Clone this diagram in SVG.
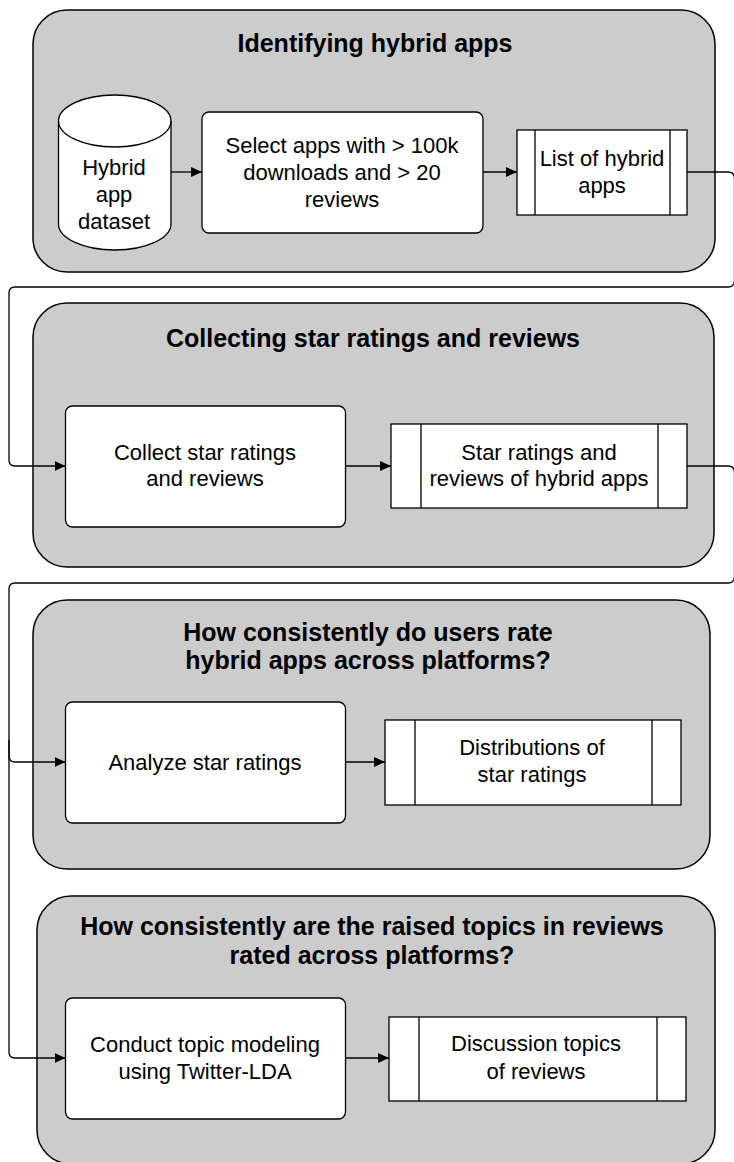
<svg xmlns="http://www.w3.org/2000/svg" width="734" height="1162" viewBox="0 0 734 1162">
<defs>
<style>
.cont{fill:#cccccc;stroke:#000;stroke-width:1.5}
.proc{fill:#fff;stroke:#000;stroke-width:1.3}
.ln{fill:none;stroke:#000;stroke-width:1.3}
.title{font-family:"Liberation Sans",Arial,sans-serif;font-weight:bold;font-size:25px;text-anchor:middle;fill:#000}
.txt{font-family:"Liberation Sans",Arial,sans-serif;font-size:22px;text-anchor:middle;fill:#000}
.edge{fill:none;stroke:#000;stroke-width:1.3}
</style>
<marker id="arr" markerUnits="userSpaceOnUse" markerWidth="12" markerHeight="10" refX="11" refY="5" orient="auto">
<path d="M0,0 L11,5 L0,10 z" fill="#000"/>
</marker>
</defs>
<rect width="734" height="1162" fill="#fff"/>

<g id="stage1">
<rect class="cont" x="33" y="10" width="682" height="262" rx="34"/>
<text class="title" x="375" y="52">Identifying hybrid apps</text>
</g>
<g id="dataset">
<path class="proc" d="M58.5,121 A56.25,26 0 0 1 171,121 L171,224 A56.25,26 0 0 1 58.5,224 Z"/>
<path class="ln" d="M58.5,121 A56.25,26 0 0 0 171,121"/>
<text class="txt" x="114" y="175">Hybrid</text>
<text class="txt" x="114" y="202">app</text>
<text class="txt" x="114" y="229">dataset</text>
</g>
<g id="select">
<rect class="proc" x="202" y="112" width="281" height="121" rx="7"/>
<text class="txt" x="342" y="153">Select apps with &gt; 100k</text>
<text class="txt" x="342" y="180">downloads and &gt; 20</text>
<text class="txt" x="342" y="207">reviews</text>
</g>
<g id="list">
<rect class="proc" x="517" y="130" width="170" height="85"/>
<path class="ln" d="M535,130 V215 M670,130 V215"/>
<text class="txt" x="602" y="166">List of hybrid</text>
<text class="txt" x="602" y="193">apps</text>
</g>

<g id="stage2">
<rect class="cont" x="33" y="303" width="681" height="264" rx="34"/>
<text class="title" x="373" y="347">Collecting star ratings and reviews</text>
</g>
<g id="collect">
<rect class="proc" x="65.5" y="406" width="280" height="121" rx="7"/>
<text class="txt" x="205" y="460">Collect star ratings</text>
<text class="txt" x="205" y="486">and reviews</text>
</g>
<g id="ratings">
<rect class="proc" x="391" y="424" width="296" height="84"/>
<path class="ln" d="M421,424 V508 M658,424 V508"/>
<text class="txt" x="539" y="460">Star ratings and</text>
<text class="txt" x="539" y="486">reviews of hybrid apps</text>
</g>

<g id="stage3">
<rect class="cont" x="33" y="600" width="677" height="269" rx="34"/>
<text class="title" x="368" y="641">How consistently do users rate</text>
<text class="title" x="368" y="669">hybrid apps across platforms?</text>
</g>
<g id="analyze">
<rect class="proc" x="65.5" y="702" width="280" height="121" rx="7"/>
<text class="txt" x="205" y="770">Analyze star ratings</text>
</g>
<g id="distributions">
<rect class="proc" x="385" y="720" width="296" height="85"/>
<path class="ln" d="M415,720 V805 M652,720 V805"/>
<text class="txt" x="532" y="755">Distributions of</text>
<text class="txt" x="532" y="782">star ratings</text>
</g>

<g id="stage4">
<rect class="cont" x="37" y="896" width="678" height="268" rx="34"/>
<text class="title" x="372" y="935">How consistently are the raised topics in reviews</text>
<text class="title" x="372" y="964">rated across platforms?</text>
</g>
<g id="conduct">
<rect class="proc" x="65.5" y="998" width="280" height="121" rx="7"/>
<text class="txt" x="205" y="1052">Conduct topic modeling</text>
<text class="txt" x="205" y="1079">using Twitter-LDA</text>
</g>
<g id="topics">
<rect class="proc" x="389" y="1017" width="297" height="84"/>
<path class="ln" d="M419,1017 V1101 M657,1017 V1101"/>
<text class="txt" x="536" y="1051">Discussion topics</text>
<text class="txt" x="536" y="1079">of reviews</text>
</g>

<g id="connectors">
<path class="edge" d="M171,172 H202" marker-end="url(#arr)"/>
<path class="edge" d="M483,172 H517" marker-end="url(#arr)"/>
<path class="edge" d="M687,172 H728 Q734.5,172 734.5,178.5 V280.5 Q734.5,287 728,287 H15 Q9,287 9,293 V460 Q9,466 15,466 H65.5" marker-end="url(#arr)"/>
<path class="edge" d="M345.5,466 H391" marker-end="url(#arr)"/>
<path class="edge" d="M687,466 H728 Q734.5,466 734.5,472.5 V576.5 Q734.5,583 728,583 H15 Q9,583 9,589 V756 Q9,762 15,762 H65.5" marker-end="url(#arr)"/>
<path class="edge" d="M9,740 V1052 Q9,1058 15,1058 H65.5" marker-end="url(#arr)"/>
<path class="edge" d="M345.5,762 H385" marker-end="url(#arr)"/>
<path class="edge" d="M345.5,1058 H389" marker-end="url(#arr)"/>
</g>
</svg>
